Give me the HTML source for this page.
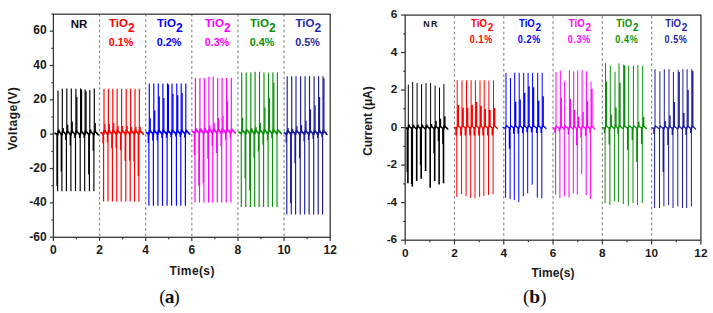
<!DOCTYPE html>
<html><head><meta charset="utf-8"><style>
html,body{margin:0;padding:0;background:#fff;}
body{width:713px;height:313px;overflow:hidden;}
svg{display:block;font-family:"Liberation Sans", sans-serif;}
</style></head><body>
<svg width="713" height="313" viewBox="0 0 713 313">
<rect width="713" height="313" fill="#fff"/>
<line x1="99.53" y1="14.20" x2="99.53" y2="237.30" stroke="#8a8a8a" stroke-width="1.2" stroke-dasharray="2.5 2.725" stroke-dashoffset="0.2"/>
<line x1="145.67" y1="14.20" x2="145.67" y2="237.30" stroke="#8a8a8a" stroke-width="1.2" stroke-dasharray="2.5 2.725" stroke-dashoffset="0.2"/>
<line x1="191.80" y1="14.20" x2="191.80" y2="237.30" stroke="#8a8a8a" stroke-width="1.2" stroke-dasharray="2.5 2.725" stroke-dashoffset="0.2"/>
<line x1="237.93" y1="14.20" x2="237.93" y2="237.30" stroke="#8a8a8a" stroke-width="1.2" stroke-dasharray="2.5 2.725" stroke-dashoffset="0.2"/>
<line x1="284.07" y1="14.20" x2="284.07" y2="237.30" stroke="#8a8a8a" stroke-width="1.2" stroke-dasharray="2.5 2.725" stroke-dashoffset="0.2"/>
<line x1="454.48" y1="15.10" x2="454.48" y2="240.20" stroke="#8a8a8a" stroke-width="1.2" stroke-dasharray="2.5 2.8" stroke-dashoffset="-0.8"/>
<line x1="503.77" y1="15.10" x2="503.77" y2="240.20" stroke="#8a8a8a" stroke-width="1.2" stroke-dasharray="2.5 2.8" stroke-dashoffset="-0.8"/>
<line x1="553.05" y1="15.10" x2="553.05" y2="240.20" stroke="#8a8a8a" stroke-width="1.2" stroke-dasharray="2.5 2.8" stroke-dashoffset="-0.8"/>
<line x1="602.33" y1="15.10" x2="602.33" y2="240.20" stroke="#8a8a8a" stroke-width="1.2" stroke-dasharray="2.5 2.8" stroke-dashoffset="-0.8"/>
<line x1="651.62" y1="15.10" x2="651.62" y2="240.20" stroke="#8a8a8a" stroke-width="1.2" stroke-dasharray="2.5 2.8" stroke-dashoffset="-0.8"/>
<polyline points="54.50,132.90 57.70,134.79 58.30,130.80 61.70,134.79 62.00,134.79 62.60,130.80 66.20,134.79 66.50,134.79 67.10,130.80 70.70,134.79 71.00,134.79 71.60,130.80 75.30,134.79 75.60,134.79 76.20,130.80 80.00,134.79 80.30,134.79 80.90,130.80 84.50,134.79 84.80,134.79 85.40,130.80 89.20,134.79 89.50,134.79 90.10,130.80 93.70,134.79 94.00,134.79 94.60,130.80 98.20,134.79 96.80,132.90" fill="none" stroke="#000000" stroke-width="1.7" stroke-linejoin="round"/>
<line x1="58.00" y1="132.90" x2="58.00" y2="90.40" stroke="#000000" stroke-width="1.15"/>
<line x1="57.60" y1="132.90" x2="57.60" y2="191.20" stroke="#000000" stroke-width="1.15"/>
<line x1="62.30" y1="132.90" x2="62.30" y2="88.80" stroke="#000000" stroke-width="1.15"/>
<line x1="61.90" y1="132.90" x2="61.90" y2="191.20" stroke="#000000" stroke-width="1.15"/>
<line x1="66.80" y1="132.90" x2="66.80" y2="88.50" stroke="#000000" stroke-width="1.15"/>
<line x1="66.40" y1="132.90" x2="66.40" y2="191.20" stroke="#000000" stroke-width="1.15"/>
<line x1="71.30" y1="132.90" x2="71.30" y2="88.50" stroke="#000000" stroke-width="1.15"/>
<line x1="70.90" y1="132.90" x2="70.90" y2="191.20" stroke="#000000" stroke-width="1.15"/>
<line x1="75.90" y1="132.90" x2="75.90" y2="88.80" stroke="#000000" stroke-width="1.15"/>
<line x1="75.50" y1="132.90" x2="75.50" y2="191.20" stroke="#000000" stroke-width="1.15"/>
<line x1="80.60" y1="132.90" x2="80.60" y2="88.50" stroke="#000000" stroke-width="1.15"/>
<line x1="80.20" y1="132.90" x2="80.20" y2="191.20" stroke="#000000" stroke-width="1.15"/>
<line x1="85.10" y1="132.90" x2="85.10" y2="89.60" stroke="#000000" stroke-width="1.15"/>
<line x1="84.70" y1="132.90" x2="84.70" y2="191.20" stroke="#000000" stroke-width="1.15"/>
<line x1="89.80" y1="132.90" x2="89.80" y2="90.10" stroke="#000000" stroke-width="1.15"/>
<line x1="89.40" y1="132.90" x2="89.40" y2="191.20" stroke="#000000" stroke-width="1.15"/>
<line x1="94.30" y1="132.90" x2="94.30" y2="88.50" stroke="#000000" stroke-width="1.15"/>
<line x1="93.90" y1="132.90" x2="93.90" y2="191.20" stroke="#000000" stroke-width="1.15"/>
<line x1="58.90" y1="132.90" x2="58.90" y2="129.50" stroke="#000000" stroke-width="1.3"/>
<line x1="63.20" y1="132.90" x2="63.20" y2="128.00" stroke="#000000" stroke-width="1.3"/>
<line x1="67.70" y1="132.90" x2="67.70" y2="124.70" stroke="#000000" stroke-width="1.3"/>
<line x1="72.20" y1="132.90" x2="72.20" y2="121.50" stroke="#000000" stroke-width="1.3"/>
<line x1="76.80" y1="132.90" x2="76.80" y2="96.80" stroke="#000000" stroke-width="1.3"/>
<line x1="81.50" y1="132.90" x2="81.50" y2="89.60" stroke="#000000" stroke-width="1.3"/>
<line x1="86.00" y1="132.90" x2="86.00" y2="91.20" stroke="#000000" stroke-width="1.3"/>
<line x1="90.70" y1="132.90" x2="90.70" y2="129.50" stroke="#000000" stroke-width="1.3"/>
<line x1="95.20" y1="132.90" x2="95.20" y2="123.10" stroke="#000000" stroke-width="1.3"/>
<line x1="57.00" y1="132.90" x2="57.00" y2="186.00" stroke="#000000" stroke-width="1.3"/>
<line x1="61.30" y1="132.90" x2="61.30" y2="171.50" stroke="#000000" stroke-width="1.3"/>
<line x1="65.80" y1="132.90" x2="65.80" y2="140.00" stroke="#000000" stroke-width="1.3"/>
<line x1="70.30" y1="132.90" x2="70.30" y2="145.60" stroke="#000000" stroke-width="1.3"/>
<line x1="74.90" y1="132.90" x2="74.90" y2="138.00" stroke="#000000" stroke-width="1.3"/>
<line x1="79.60" y1="132.90" x2="79.60" y2="138.00" stroke="#000000" stroke-width="1.3"/>
<line x1="84.10" y1="132.90" x2="84.10" y2="138.00" stroke="#000000" stroke-width="1.3"/>
<line x1="88.80" y1="132.90" x2="88.80" y2="174.60" stroke="#000000" stroke-width="1.3"/>
<line x1="93.30" y1="132.90" x2="93.30" y2="150.70" stroke="#000000" stroke-width="1.3"/>
<polyline points="100.50,132.30 103.70,134.19 104.30,130.20 107.80,134.19 108.10,134.19 108.70,130.20 112.20,134.19 112.50,134.19 113.10,130.20 116.50,134.19 116.80,134.19 117.40,130.20 121.00,134.19 121.30,134.19 121.90,130.20 125.60,134.19 125.90,134.19 126.50,130.20 130.00,134.19 130.30,134.19 130.90,130.20 134.40,134.19 134.70,134.19 135.30,130.20 138.70,134.19 139.00,134.19 139.60,130.20 143.20,134.19 141.80,132.30" fill="none" stroke="#ff0000" stroke-width="1.7" stroke-linejoin="round"/>
<line x1="104.00" y1="132.30" x2="104.00" y2="88.80" stroke="#ff0000" stroke-width="1.15"/>
<line x1="103.60" y1="132.30" x2="103.60" y2="201.50" stroke="#ff0000" stroke-width="1.15"/>
<line x1="108.40" y1="132.30" x2="108.40" y2="88.80" stroke="#ff0000" stroke-width="1.15"/>
<line x1="108.00" y1="132.30" x2="108.00" y2="201.50" stroke="#ff0000" stroke-width="1.15"/>
<line x1="112.80" y1="132.30" x2="112.80" y2="88.80" stroke="#ff0000" stroke-width="1.15"/>
<line x1="112.40" y1="132.30" x2="112.40" y2="201.50" stroke="#ff0000" stroke-width="1.15"/>
<line x1="117.10" y1="132.30" x2="117.10" y2="88.80" stroke="#ff0000" stroke-width="1.15"/>
<line x1="116.70" y1="132.30" x2="116.70" y2="201.50" stroke="#ff0000" stroke-width="1.15"/>
<line x1="121.60" y1="132.30" x2="121.60" y2="88.80" stroke="#ff0000" stroke-width="1.15"/>
<line x1="121.20" y1="132.30" x2="121.20" y2="201.50" stroke="#ff0000" stroke-width="1.15"/>
<line x1="126.20" y1="132.30" x2="126.20" y2="88.80" stroke="#ff0000" stroke-width="1.15"/>
<line x1="125.80" y1="132.30" x2="125.80" y2="201.50" stroke="#ff0000" stroke-width="1.15"/>
<line x1="130.60" y1="132.30" x2="130.60" y2="88.80" stroke="#ff0000" stroke-width="1.15"/>
<line x1="130.20" y1="132.30" x2="130.20" y2="201.50" stroke="#ff0000" stroke-width="1.15"/>
<line x1="135.00" y1="132.30" x2="135.00" y2="88.80" stroke="#ff0000" stroke-width="1.15"/>
<line x1="134.60" y1="132.30" x2="134.60" y2="201.50" stroke="#ff0000" stroke-width="1.15"/>
<line x1="139.30" y1="132.30" x2="139.30" y2="88.80" stroke="#ff0000" stroke-width="1.15"/>
<line x1="138.90" y1="132.30" x2="138.90" y2="201.50" stroke="#ff0000" stroke-width="1.15"/>
<line x1="104.90" y1="132.30" x2="104.90" y2="124.00" stroke="#ff0000" stroke-width="1.3"/>
<line x1="109.30" y1="132.30" x2="109.30" y2="124.00" stroke="#ff0000" stroke-width="1.3"/>
<line x1="113.70" y1="132.30" x2="113.70" y2="123.00" stroke="#ff0000" stroke-width="1.3"/>
<line x1="118.00" y1="132.30" x2="118.00" y2="126.00" stroke="#ff0000" stroke-width="1.3"/>
<line x1="122.50" y1="132.30" x2="122.50" y2="126.00" stroke="#ff0000" stroke-width="1.3"/>
<line x1="127.10" y1="132.30" x2="127.10" y2="126.00" stroke="#ff0000" stroke-width="1.3"/>
<line x1="131.50" y1="132.30" x2="131.50" y2="127.00" stroke="#ff0000" stroke-width="1.3"/>
<line x1="135.90" y1="132.30" x2="135.90" y2="127.00" stroke="#ff0000" stroke-width="1.3"/>
<line x1="140.20" y1="132.30" x2="140.20" y2="127.00" stroke="#ff0000" stroke-width="1.3"/>
<line x1="103.00" y1="132.30" x2="103.00" y2="143.40" stroke="#ff0000" stroke-width="1.3"/>
<line x1="107.40" y1="132.30" x2="107.40" y2="142.50" stroke="#ff0000" stroke-width="1.3"/>
<line x1="111.80" y1="132.30" x2="111.80" y2="148.20" stroke="#ff0000" stroke-width="1.3"/>
<line x1="116.10" y1="132.30" x2="116.10" y2="148.20" stroke="#ff0000" stroke-width="1.3"/>
<line x1="120.60" y1="132.30" x2="120.60" y2="150.10" stroke="#ff0000" stroke-width="1.3"/>
<line x1="125.20" y1="132.30" x2="125.20" y2="160.70" stroke="#ff0000" stroke-width="1.3"/>
<line x1="129.60" y1="132.30" x2="129.60" y2="160.70" stroke="#ff0000" stroke-width="1.3"/>
<line x1="134.00" y1="132.30" x2="134.00" y2="161.60" stroke="#ff0000" stroke-width="1.3"/>
<line x1="138.30" y1="132.30" x2="138.30" y2="176.00" stroke="#ff0000" stroke-width="1.3"/>
<polyline points="145.80,132.30 149.00,134.19 149.60,130.20 153.20,134.19 153.50,134.19 154.10,130.20 157.70,134.19 158.00,134.19 158.60,130.20 162.30,134.19 162.60,134.19 163.20,130.20 166.90,134.19 167.20,134.19 167.80,130.20 171.40,134.19 171.70,134.19 172.30,130.20 176.20,134.19 176.50,134.19 177.10,130.20 180.60,134.19 180.90,134.19 181.50,130.20 185.20,134.19 185.50,134.19 186.10,130.20 189.70,134.19 188.30,132.30" fill="none" stroke="#0000ff" stroke-width="1.7" stroke-linejoin="round"/>
<line x1="149.30" y1="132.30" x2="149.30" y2="83.40" stroke="#0000ff" stroke-width="1.15"/>
<line x1="148.90" y1="132.30" x2="148.90" y2="205.80" stroke="#0000ff" stroke-width="1.15"/>
<line x1="153.80" y1="132.30" x2="153.80" y2="83.40" stroke="#0000ff" stroke-width="1.15"/>
<line x1="153.40" y1="132.30" x2="153.40" y2="205.80" stroke="#0000ff" stroke-width="1.15"/>
<line x1="158.30" y1="132.30" x2="158.30" y2="83.40" stroke="#0000ff" stroke-width="1.15"/>
<line x1="157.90" y1="132.30" x2="157.90" y2="205.80" stroke="#0000ff" stroke-width="1.15"/>
<line x1="162.90" y1="132.30" x2="162.90" y2="83.40" stroke="#0000ff" stroke-width="1.15"/>
<line x1="162.50" y1="132.30" x2="162.50" y2="205.80" stroke="#0000ff" stroke-width="1.15"/>
<line x1="167.50" y1="132.30" x2="167.50" y2="83.40" stroke="#0000ff" stroke-width="1.15"/>
<line x1="167.10" y1="132.30" x2="167.10" y2="205.80" stroke="#0000ff" stroke-width="1.15"/>
<line x1="172.00" y1="132.30" x2="172.00" y2="83.40" stroke="#0000ff" stroke-width="1.15"/>
<line x1="171.60" y1="132.30" x2="171.60" y2="205.80" stroke="#0000ff" stroke-width="1.15"/>
<line x1="176.80" y1="132.30" x2="176.80" y2="83.40" stroke="#0000ff" stroke-width="1.15"/>
<line x1="176.40" y1="132.30" x2="176.40" y2="205.80" stroke="#0000ff" stroke-width="1.15"/>
<line x1="181.20" y1="132.30" x2="181.20" y2="83.40" stroke="#0000ff" stroke-width="1.15"/>
<line x1="180.80" y1="132.30" x2="180.80" y2="205.80" stroke="#0000ff" stroke-width="1.15"/>
<line x1="185.80" y1="132.30" x2="185.80" y2="83.40" stroke="#0000ff" stroke-width="1.15"/>
<line x1="185.40" y1="132.30" x2="185.40" y2="205.80" stroke="#0000ff" stroke-width="1.15"/>
<line x1="150.20" y1="132.30" x2="150.20" y2="118.20" stroke="#0000ff" stroke-width="1.3"/>
<line x1="154.70" y1="132.30" x2="154.70" y2="110.60" stroke="#0000ff" stroke-width="1.3"/>
<line x1="159.20" y1="132.30" x2="159.20" y2="96.20" stroke="#0000ff" stroke-width="1.3"/>
<line x1="163.80" y1="132.30" x2="163.80" y2="98.10" stroke="#0000ff" stroke-width="1.3"/>
<line x1="168.40" y1="132.30" x2="168.40" y2="84.50" stroke="#0000ff" stroke-width="1.3"/>
<line x1="172.90" y1="132.30" x2="172.90" y2="93.80" stroke="#0000ff" stroke-width="1.3"/>
<line x1="177.70" y1="132.30" x2="177.70" y2="95.30" stroke="#0000ff" stroke-width="1.3"/>
<line x1="182.10" y1="132.30" x2="182.10" y2="92.90" stroke="#0000ff" stroke-width="1.3"/>
<line x1="148.30" y1="132.30" x2="148.30" y2="142.90" stroke="#0000ff" stroke-width="1.3"/>
<line x1="152.80" y1="132.30" x2="152.80" y2="140.50" stroke="#0000ff" stroke-width="1.3"/>
<line x1="157.30" y1="132.30" x2="157.30" y2="140.50" stroke="#0000ff" stroke-width="1.3"/>
<line x1="161.90" y1="132.30" x2="161.90" y2="138.00" stroke="#0000ff" stroke-width="1.3"/>
<line x1="166.50" y1="132.30" x2="166.50" y2="138.00" stroke="#0000ff" stroke-width="1.3"/>
<line x1="171.00" y1="132.30" x2="171.00" y2="137.10" stroke="#0000ff" stroke-width="1.3"/>
<line x1="175.80" y1="132.30" x2="175.80" y2="136.60" stroke="#0000ff" stroke-width="1.3"/>
<line x1="180.20" y1="132.30" x2="180.20" y2="137.10" stroke="#0000ff" stroke-width="1.3"/>
<line x1="184.80" y1="132.30" x2="184.80" y2="137.60" stroke="#0000ff" stroke-width="1.3"/>
<polyline points="191.90,131.20 195.10,133.09 195.70,129.10 199.30,133.09 199.60,133.09 200.20,129.10 203.70,133.09 204.00,133.09 204.60,129.10 208.30,133.09 208.60,133.09 209.20,129.10 212.60,133.09 212.90,133.09 213.50,129.10 217.10,133.09 217.40,133.09 218.00,129.10 221.50,133.09 221.80,133.09 222.40,129.10 226.00,133.09 226.30,133.09 226.90,129.10 230.70,133.09 231.00,133.09 231.60,129.10 235.20,133.09 233.80,131.20" fill="none" stroke="#ff00ff" stroke-width="1.7" stroke-linejoin="round"/>
<line x1="195.40" y1="131.20" x2="195.40" y2="78.10" stroke="#ff00ff" stroke-width="1.15"/>
<line x1="195.00" y1="131.20" x2="195.00" y2="202.60" stroke="#ff00ff" stroke-width="1.15"/>
<line x1="199.90" y1="131.20" x2="199.90" y2="78.10" stroke="#ff00ff" stroke-width="1.15"/>
<line x1="199.50" y1="131.20" x2="199.50" y2="202.60" stroke="#ff00ff" stroke-width="1.15"/>
<line x1="204.30" y1="131.20" x2="204.30" y2="78.10" stroke="#ff00ff" stroke-width="1.15"/>
<line x1="203.90" y1="131.20" x2="203.90" y2="202.60" stroke="#ff00ff" stroke-width="1.15"/>
<line x1="208.90" y1="131.20" x2="208.90" y2="76.80" stroke="#ff00ff" stroke-width="1.15"/>
<line x1="208.50" y1="131.20" x2="208.50" y2="202.60" stroke="#ff00ff" stroke-width="1.15"/>
<line x1="213.20" y1="131.20" x2="213.20" y2="76.80" stroke="#ff00ff" stroke-width="1.15"/>
<line x1="212.80" y1="131.20" x2="212.80" y2="202.60" stroke="#ff00ff" stroke-width="1.15"/>
<line x1="217.70" y1="131.20" x2="217.70" y2="78.10" stroke="#ff00ff" stroke-width="1.15"/>
<line x1="217.30" y1="131.20" x2="217.30" y2="202.60" stroke="#ff00ff" stroke-width="1.15"/>
<line x1="222.10" y1="131.20" x2="222.10" y2="78.10" stroke="#ff00ff" stroke-width="1.15"/>
<line x1="221.70" y1="131.20" x2="221.70" y2="202.60" stroke="#ff00ff" stroke-width="1.15"/>
<line x1="226.60" y1="131.20" x2="226.60" y2="78.10" stroke="#ff00ff" stroke-width="1.15"/>
<line x1="226.20" y1="131.20" x2="226.20" y2="202.60" stroke="#ff00ff" stroke-width="1.15"/>
<line x1="231.30" y1="131.20" x2="231.30" y2="78.10" stroke="#ff00ff" stroke-width="1.15"/>
<line x1="230.90" y1="131.20" x2="230.90" y2="202.60" stroke="#ff00ff" stroke-width="1.15"/>
<line x1="196.30" y1="131.20" x2="196.30" y2="128.50" stroke="#ff00ff" stroke-width="1.3"/>
<line x1="200.80" y1="131.20" x2="200.80" y2="128.50" stroke="#ff00ff" stroke-width="1.3"/>
<line x1="205.20" y1="131.20" x2="205.20" y2="127.60" stroke="#ff00ff" stroke-width="1.3"/>
<line x1="209.80" y1="131.20" x2="209.80" y2="125.60" stroke="#ff00ff" stroke-width="1.3"/>
<line x1="214.10" y1="131.20" x2="214.10" y2="122.80" stroke="#ff00ff" stroke-width="1.3"/>
<line x1="218.60" y1="131.20" x2="218.60" y2="118.00" stroke="#ff00ff" stroke-width="1.3"/>
<line x1="223.00" y1="131.20" x2="223.00" y2="116.00" stroke="#ff00ff" stroke-width="1.3"/>
<line x1="227.50" y1="131.20" x2="227.50" y2="100.70" stroke="#ff00ff" stroke-width="1.3"/>
<line x1="194.40" y1="131.20" x2="194.40" y2="154.90" stroke="#ff00ff" stroke-width="1.3"/>
<line x1="198.90" y1="131.20" x2="198.90" y2="185.60" stroke="#ff00ff" stroke-width="1.3"/>
<line x1="203.30" y1="131.20" x2="203.30" y2="183.00" stroke="#ff00ff" stroke-width="1.3"/>
<line x1="207.90" y1="131.20" x2="207.90" y2="158.70" stroke="#ff00ff" stroke-width="1.3"/>
<line x1="212.20" y1="131.20" x2="212.20" y2="146.00" stroke="#ff00ff" stroke-width="1.3"/>
<line x1="216.70" y1="131.20" x2="216.70" y2="153.00" stroke="#ff00ff" stroke-width="1.3"/>
<line x1="221.10" y1="131.20" x2="221.10" y2="146.30" stroke="#ff00ff" stroke-width="1.3"/>
<line x1="225.60" y1="131.20" x2="225.60" y2="140.00" stroke="#ff00ff" stroke-width="1.3"/>
<line x1="230.30" y1="131.20" x2="230.30" y2="138.00" stroke="#ff00ff" stroke-width="1.3"/>
<polyline points="238.20,131.80 241.40,133.69 242.00,129.70 245.60,133.69 245.90,133.69 246.50,129.70 250.20,133.69 250.50,133.69 251.10,129.70 254.50,133.69 254.80,133.69 255.40,129.70 258.90,133.69 259.20,133.69 259.80,129.70 263.40,133.69 263.70,133.69 264.30,129.70 267.90,133.69 268.20,133.69 268.80,129.70 272.30,133.69 272.60,133.69 273.20,129.70 276.80,133.69 277.10,133.69 277.70,129.70 281.30,133.69 279.90,131.80" fill="none" stroke="#0a900a" stroke-width="1.7" stroke-linejoin="round"/>
<line x1="241.70" y1="131.80" x2="241.70" y2="72.60" stroke="#0a900a" stroke-width="1.15"/>
<line x1="241.30" y1="131.80" x2="241.30" y2="206.90" stroke="#0a900a" stroke-width="1.15"/>
<line x1="246.20" y1="131.80" x2="246.20" y2="72.60" stroke="#0a900a" stroke-width="1.15"/>
<line x1="245.80" y1="131.80" x2="245.80" y2="206.90" stroke="#0a900a" stroke-width="1.15"/>
<line x1="250.80" y1="131.80" x2="250.80" y2="72.60" stroke="#0a900a" stroke-width="1.15"/>
<line x1="250.40" y1="131.80" x2="250.40" y2="206.90" stroke="#0a900a" stroke-width="1.15"/>
<line x1="255.10" y1="131.80" x2="255.10" y2="71.70" stroke="#0a900a" stroke-width="1.15"/>
<line x1="254.70" y1="131.80" x2="254.70" y2="206.90" stroke="#0a900a" stroke-width="1.15"/>
<line x1="259.50" y1="131.80" x2="259.50" y2="71.70" stroke="#0a900a" stroke-width="1.15"/>
<line x1="259.10" y1="131.80" x2="259.10" y2="206.90" stroke="#0a900a" stroke-width="1.15"/>
<line x1="264.00" y1="131.80" x2="264.00" y2="72.60" stroke="#0a900a" stroke-width="1.15"/>
<line x1="263.60" y1="131.80" x2="263.60" y2="206.90" stroke="#0a900a" stroke-width="1.15"/>
<line x1="268.50" y1="131.80" x2="268.50" y2="72.60" stroke="#0a900a" stroke-width="1.15"/>
<line x1="268.10" y1="131.80" x2="268.10" y2="206.90" stroke="#0a900a" stroke-width="1.15"/>
<line x1="272.90" y1="131.80" x2="272.90" y2="72.60" stroke="#0a900a" stroke-width="1.15"/>
<line x1="272.50" y1="131.80" x2="272.50" y2="206.90" stroke="#0a900a" stroke-width="1.15"/>
<line x1="277.40" y1="131.80" x2="277.40" y2="72.60" stroke="#0a900a" stroke-width="1.15"/>
<line x1="277.00" y1="131.80" x2="277.00" y2="206.90" stroke="#0a900a" stroke-width="1.15"/>
<line x1="242.60" y1="131.80" x2="242.60" y2="117.80" stroke="#0a900a" stroke-width="1.3"/>
<line x1="251.70" y1="131.80" x2="251.70" y2="128.00" stroke="#0a900a" stroke-width="1.3"/>
<line x1="256.00" y1="131.80" x2="256.00" y2="127.00" stroke="#0a900a" stroke-width="1.3"/>
<line x1="260.40" y1="131.80" x2="260.40" y2="123.00" stroke="#0a900a" stroke-width="1.3"/>
<line x1="264.90" y1="131.80" x2="264.90" y2="107.40" stroke="#0a900a" stroke-width="1.3"/>
<line x1="269.40" y1="131.80" x2="269.40" y2="98.00" stroke="#0a900a" stroke-width="1.3"/>
<line x1="273.80" y1="131.80" x2="273.80" y2="82.50" stroke="#0a900a" stroke-width="1.3"/>
<line x1="245.20" y1="131.80" x2="245.20" y2="178.30" stroke="#0a900a" stroke-width="1.3"/>
<line x1="249.80" y1="131.80" x2="249.80" y2="190.60" stroke="#0a900a" stroke-width="1.3"/>
<line x1="254.10" y1="131.80" x2="254.10" y2="158.20" stroke="#0a900a" stroke-width="1.3"/>
<line x1="258.50" y1="131.80" x2="258.50" y2="151.50" stroke="#0a900a" stroke-width="1.3"/>
<line x1="263.00" y1="131.80" x2="263.00" y2="144.80" stroke="#0a900a" stroke-width="1.3"/>
<line x1="267.50" y1="131.80" x2="267.50" y2="140.30" stroke="#0a900a" stroke-width="1.3"/>
<line x1="271.90" y1="131.80" x2="271.90" y2="138.00" stroke="#0a900a" stroke-width="1.3"/>
<polyline points="283.70,132.50 286.90,134.39 287.50,130.40 291.10,134.39 291.40,134.39 292.00,130.40 295.40,134.39 295.70,134.39 296.30,130.40 300.00,134.39 300.30,134.39 300.90,130.40 304.50,134.39 304.80,134.39 305.40,130.40 308.90,134.39 309.20,134.39 309.80,130.40 313.50,134.39 313.80,134.39 314.40,130.40 318.00,134.39 318.30,134.39 318.90,130.40 322.40,134.39 322.70,134.39 323.30,130.40 326.90,134.39 325.50,132.50" fill="none" stroke="#1c1c9c" stroke-width="1.7" stroke-linejoin="round"/>
<line x1="287.20" y1="132.50" x2="287.20" y2="76.20" stroke="#1c1c9c" stroke-width="1.15"/>
<line x1="286.80" y1="132.50" x2="286.80" y2="214.50" stroke="#1c1c9c" stroke-width="1.15"/>
<line x1="291.70" y1="132.50" x2="291.70" y2="76.20" stroke="#1c1c9c" stroke-width="1.15"/>
<line x1="291.30" y1="132.50" x2="291.30" y2="214.50" stroke="#1c1c9c" stroke-width="1.15"/>
<line x1="296.00" y1="132.50" x2="296.00" y2="76.20" stroke="#1c1c9c" stroke-width="1.15"/>
<line x1="295.60" y1="132.50" x2="295.60" y2="214.50" stroke="#1c1c9c" stroke-width="1.15"/>
<line x1="300.60" y1="132.50" x2="300.60" y2="76.20" stroke="#1c1c9c" stroke-width="1.15"/>
<line x1="300.20" y1="132.50" x2="300.20" y2="214.50" stroke="#1c1c9c" stroke-width="1.15"/>
<line x1="305.10" y1="132.50" x2="305.10" y2="76.20" stroke="#1c1c9c" stroke-width="1.15"/>
<line x1="304.70" y1="132.50" x2="304.70" y2="214.50" stroke="#1c1c9c" stroke-width="1.15"/>
<line x1="309.50" y1="132.50" x2="309.50" y2="76.20" stroke="#1c1c9c" stroke-width="1.15"/>
<line x1="309.10" y1="132.50" x2="309.10" y2="214.50" stroke="#1c1c9c" stroke-width="1.15"/>
<line x1="314.10" y1="132.50" x2="314.10" y2="76.20" stroke="#1c1c9c" stroke-width="1.15"/>
<line x1="313.70" y1="132.50" x2="313.70" y2="214.50" stroke="#1c1c9c" stroke-width="1.15"/>
<line x1="318.60" y1="132.50" x2="318.60" y2="76.20" stroke="#1c1c9c" stroke-width="1.15"/>
<line x1="318.20" y1="132.50" x2="318.20" y2="214.50" stroke="#1c1c9c" stroke-width="1.15"/>
<line x1="323.00" y1="132.50" x2="323.00" y2="76.20" stroke="#1c1c9c" stroke-width="1.15"/>
<line x1="322.60" y1="132.50" x2="322.60" y2="214.50" stroke="#1c1c9c" stroke-width="1.15"/>
<line x1="288.10" y1="132.50" x2="288.10" y2="128.00" stroke="#1c1c9c" stroke-width="1.3"/>
<line x1="292.60" y1="132.50" x2="292.60" y2="129.00" stroke="#1c1c9c" stroke-width="1.3"/>
<line x1="296.90" y1="132.50" x2="296.90" y2="126.00" stroke="#1c1c9c" stroke-width="1.3"/>
<line x1="301.50" y1="132.50" x2="301.50" y2="125.00" stroke="#1c1c9c" stroke-width="1.3"/>
<line x1="306.00" y1="132.50" x2="306.00" y2="120.80" stroke="#1c1c9c" stroke-width="1.3"/>
<line x1="310.40" y1="132.50" x2="310.40" y2="109.40" stroke="#1c1c9c" stroke-width="1.3"/>
<line x1="315.00" y1="132.50" x2="315.00" y2="105.30" stroke="#1c1c9c" stroke-width="1.3"/>
<line x1="319.50" y1="132.50" x2="319.50" y2="97.00" stroke="#1c1c9c" stroke-width="1.3"/>
<line x1="323.90" y1="132.50" x2="323.90" y2="78.30" stroke="#1c1c9c" stroke-width="1.3"/>
<line x1="286.20" y1="132.50" x2="286.20" y2="142.80" stroke="#1c1c9c" stroke-width="1.3"/>
<line x1="290.70" y1="132.50" x2="290.70" y2="203.00" stroke="#1c1c9c" stroke-width="1.3"/>
<line x1="295.00" y1="132.50" x2="295.00" y2="163.30" stroke="#1c1c9c" stroke-width="1.3"/>
<line x1="299.60" y1="132.50" x2="299.60" y2="158.20" stroke="#1c1c9c" stroke-width="1.3"/>
<line x1="304.10" y1="132.50" x2="304.10" y2="141.50" stroke="#1c1c9c" stroke-width="1.3"/>
<line x1="308.50" y1="132.50" x2="308.50" y2="140.00" stroke="#1c1c9c" stroke-width="1.3"/>
<line x1="313.10" y1="132.50" x2="313.10" y2="139.00" stroke="#1c1c9c" stroke-width="1.3"/>
<line x1="317.60" y1="132.50" x2="317.60" y2="138.00" stroke="#1c1c9c" stroke-width="1.3"/>
<line x1="322.00" y1="132.50" x2="322.00" y2="137.00" stroke="#1c1c9c" stroke-width="1.3"/>
<polyline points="404.80,127.40 408.00,128.93 408.60,125.70 412.10,128.93 412.40,128.93 413.00,125.70 416.50,128.93 416.80,128.93 417.40,125.70 421.00,128.93 421.30,128.93 421.90,125.70 425.40,128.93 425.70,128.93 426.30,125.70 430.00,128.93 430.30,128.93 430.90,125.70 434.50,128.93 434.80,128.93 435.40,125.70 438.90,128.93 439.20,128.93 439.80,125.70 443.30,128.93 443.60,128.93 444.20,125.70 447.80,128.93 446.40,127.40" fill="none" stroke="#000000" stroke-width="1.5" stroke-linejoin="round"/>
<line x1="408.30" y1="127.40" x2="408.30" y2="84.70" stroke="#000000" stroke-width="1.0"/>
<line x1="407.90" y1="127.40" x2="407.90" y2="183.30" stroke="#000000" stroke-width="1.6"/>
<line x1="412.70" y1="127.40" x2="412.70" y2="82.00" stroke="#000000" stroke-width="1.0"/>
<line x1="412.30" y1="127.40" x2="412.30" y2="186.60" stroke="#000000" stroke-width="1.6"/>
<line x1="417.10" y1="127.40" x2="417.10" y2="83.10" stroke="#000000" stroke-width="1.0"/>
<line x1="416.70" y1="127.40" x2="416.70" y2="181.00" stroke="#000000" stroke-width="1.6"/>
<line x1="421.60" y1="127.40" x2="421.60" y2="84.10" stroke="#000000" stroke-width="1.0"/>
<line x1="421.20" y1="127.40" x2="421.20" y2="178.80" stroke="#000000" stroke-width="1.6"/>
<line x1="426.00" y1="127.40" x2="426.00" y2="83.10" stroke="#000000" stroke-width="1.0"/>
<line x1="425.60" y1="127.40" x2="425.60" y2="171.00" stroke="#000000" stroke-width="1.6"/>
<line x1="430.60" y1="127.40" x2="430.60" y2="83.10" stroke="#000000" stroke-width="1.0"/>
<line x1="430.20" y1="127.40" x2="430.20" y2="187.80" stroke="#000000" stroke-width="1.6"/>
<line x1="435.10" y1="127.40" x2="435.10" y2="85.70" stroke="#000000" stroke-width="1.0"/>
<line x1="434.70" y1="127.40" x2="434.70" y2="181.00" stroke="#000000" stroke-width="1.6"/>
<line x1="439.50" y1="127.40" x2="439.50" y2="87.60" stroke="#000000" stroke-width="1.0"/>
<line x1="439.10" y1="127.40" x2="439.10" y2="184.40" stroke="#000000" stroke-width="1.6"/>
<line x1="443.90" y1="127.40" x2="443.90" y2="84.10" stroke="#000000" stroke-width="1.0"/>
<line x1="443.50" y1="127.40" x2="443.50" y2="183.30" stroke="#000000" stroke-width="1.6"/>
<line x1="409.20" y1="127.40" x2="409.20" y2="124.50" stroke="#000000" stroke-width="1.5"/>
<line x1="413.60" y1="127.40" x2="413.60" y2="124.50" stroke="#000000" stroke-width="1.5"/>
<line x1="418.00" y1="127.40" x2="418.00" y2="124.50" stroke="#000000" stroke-width="1.5"/>
<line x1="422.50" y1="127.40" x2="422.50" y2="124.50" stroke="#000000" stroke-width="1.5"/>
<line x1="426.90" y1="127.40" x2="426.90" y2="124.50" stroke="#000000" stroke-width="1.5"/>
<line x1="431.50" y1="127.40" x2="431.50" y2="124.00" stroke="#000000" stroke-width="1.5"/>
<line x1="436.00" y1="127.40" x2="436.00" y2="120.80" stroke="#000000" stroke-width="1.5"/>
<line x1="440.40" y1="127.40" x2="440.40" y2="118.70" stroke="#000000" stroke-width="1.5"/>
<line x1="444.80" y1="127.40" x2="444.80" y2="116.30" stroke="#000000" stroke-width="1.5"/>
<line x1="407.30" y1="127.40" x2="407.30" y2="172.00" stroke="#000000" stroke-width="1.5"/>
<line x1="411.70" y1="127.40" x2="411.70" y2="184.00" stroke="#000000" stroke-width="1.5"/>
<line x1="420.60" y1="127.40" x2="420.60" y2="165.00" stroke="#000000" stroke-width="1.5"/>
<line x1="434.10" y1="127.40" x2="434.10" y2="153.00" stroke="#000000" stroke-width="1.5"/>
<line x1="438.50" y1="127.40" x2="438.50" y2="141.00" stroke="#000000" stroke-width="1.5"/>
<line x1="442.90" y1="127.40" x2="442.90" y2="144.00" stroke="#000000" stroke-width="1.5"/>
<polyline points="453.70,127.00 456.90,128.53 457.50,125.30 461.40,128.53 461.70,128.53 462.30,125.30 465.90,128.53 466.20,128.53 466.80,125.30 470.50,128.53 470.80,128.53 471.40,125.30 474.80,128.53 475.10,128.53 475.70,125.30 479.40,128.53 479.70,128.53 480.30,125.30 483.60,128.53 483.90,128.53 484.50,125.30 488.30,128.53 488.60,128.53 489.20,125.30 492.90,128.53 493.20,128.53 493.80,125.30 497.40,128.53 496.00,127.00" fill="none" stroke="#ff0000" stroke-width="1.15" stroke-linejoin="round"/>
<line x1="457.20" y1="127.00" x2="457.20" y2="80.20" stroke="#ff0000" stroke-width="1.0"/>
<line x1="456.80" y1="127.00" x2="456.80" y2="197.00" stroke="#ff0000" stroke-width="1.0"/>
<line x1="462.00" y1="127.00" x2="462.00" y2="80.50" stroke="#ff0000" stroke-width="1.0"/>
<line x1="461.60" y1="127.00" x2="461.60" y2="194.00" stroke="#ff0000" stroke-width="1.0"/>
<line x1="466.50" y1="127.00" x2="466.50" y2="80.50" stroke="#ff0000" stroke-width="1.0"/>
<line x1="466.10" y1="127.00" x2="466.10" y2="196.00" stroke="#ff0000" stroke-width="1.0"/>
<line x1="471.10" y1="127.00" x2="471.10" y2="80.20" stroke="#ff0000" stroke-width="1.0"/>
<line x1="470.70" y1="127.00" x2="470.70" y2="198.00" stroke="#ff0000" stroke-width="1.0"/>
<line x1="475.40" y1="127.00" x2="475.40" y2="80.20" stroke="#ff0000" stroke-width="1.0"/>
<line x1="475.00" y1="127.00" x2="475.00" y2="198.50" stroke="#ff0000" stroke-width="1.0"/>
<line x1="480.00" y1="127.00" x2="480.00" y2="80.50" stroke="#ff0000" stroke-width="1.0"/>
<line x1="479.60" y1="127.00" x2="479.60" y2="197.00" stroke="#ff0000" stroke-width="1.0"/>
<line x1="484.20" y1="127.00" x2="484.20" y2="80.20" stroke="#ff0000" stroke-width="1.0"/>
<line x1="483.80" y1="127.00" x2="483.80" y2="196.00" stroke="#ff0000" stroke-width="1.0"/>
<line x1="488.90" y1="127.00" x2="488.90" y2="80.50" stroke="#ff0000" stroke-width="1.0"/>
<line x1="488.50" y1="127.00" x2="488.50" y2="195.00" stroke="#ff0000" stroke-width="1.0"/>
<line x1="493.50" y1="127.00" x2="493.50" y2="80.50" stroke="#ff0000" stroke-width="1.0"/>
<line x1="493.10" y1="127.00" x2="493.10" y2="194.00" stroke="#ff0000" stroke-width="1.0"/>
<line x1="458.10" y1="127.00" x2="458.10" y2="105.00" stroke="#ff0000" stroke-width="1.9"/>
<line x1="462.90" y1="127.00" x2="462.90" y2="107.80" stroke="#ff0000" stroke-width="1.9"/>
<line x1="467.40" y1="127.00" x2="467.40" y2="107.80" stroke="#ff0000" stroke-width="1.9"/>
<line x1="472.00" y1="127.00" x2="472.00" y2="105.00" stroke="#ff0000" stroke-width="1.9"/>
<line x1="476.30" y1="127.00" x2="476.30" y2="102.00" stroke="#ff0000" stroke-width="1.9"/>
<line x1="480.90" y1="127.00" x2="480.90" y2="106.00" stroke="#ff0000" stroke-width="1.9"/>
<line x1="485.10" y1="127.00" x2="485.10" y2="109.00" stroke="#ff0000" stroke-width="1.9"/>
<line x1="489.80" y1="127.00" x2="489.80" y2="110.00" stroke="#ff0000" stroke-width="1.9"/>
<line x1="494.40" y1="127.00" x2="494.40" y2="108.00" stroke="#ff0000" stroke-width="1.9"/>
<line x1="456.20" y1="127.00" x2="456.20" y2="135.50" stroke="#ff0000" stroke-width="1.9"/>
<line x1="461.00" y1="127.00" x2="461.00" y2="135.50" stroke="#ff0000" stroke-width="1.9"/>
<line x1="465.50" y1="127.00" x2="465.50" y2="135.50" stroke="#ff0000" stroke-width="1.9"/>
<line x1="470.10" y1="127.00" x2="470.10" y2="135.50" stroke="#ff0000" stroke-width="1.9"/>
<line x1="474.40" y1="127.00" x2="474.40" y2="135.50" stroke="#ff0000" stroke-width="1.9"/>
<line x1="479.00" y1="127.00" x2="479.00" y2="135.50" stroke="#ff0000" stroke-width="1.9"/>
<line x1="483.20" y1="127.00" x2="483.20" y2="135.50" stroke="#ff0000" stroke-width="1.9"/>
<line x1="487.90" y1="127.00" x2="487.90" y2="135.50" stroke="#ff0000" stroke-width="1.9"/>
<line x1="492.50" y1="127.00" x2="492.50" y2="135.50" stroke="#ff0000" stroke-width="1.9"/>
<polyline points="502.50,127.00 505.70,128.53 506.30,125.30 509.90,128.53 510.20,128.53 510.80,125.30 514.10,128.53 514.40,128.53 515.00,125.30 518.60,128.53 518.90,128.53 519.50,125.30 523.10,128.53 523.40,128.53 524.00,125.30 527.50,128.53 527.80,128.53 528.40,125.30 532.00,128.53 532.30,128.53 532.90,125.30 537.10,128.53 537.40,128.53 538.00,125.30 541.60,128.53 541.90,128.53 542.50,125.30 546.10,128.53 544.70,127.00" fill="none" stroke="#0000ff" stroke-width="1.15" stroke-linejoin="round"/>
<line x1="506.00" y1="127.00" x2="506.00" y2="72.80" stroke="#0000ff" stroke-width="1.0"/>
<line x1="505.60" y1="127.00" x2="505.60" y2="197.60" stroke="#0000ff" stroke-width="1.0"/>
<line x1="510.50" y1="127.00" x2="510.50" y2="78.00" stroke="#0000ff" stroke-width="1.0"/>
<line x1="510.10" y1="127.00" x2="510.10" y2="199.00" stroke="#0000ff" stroke-width="1.0"/>
<line x1="514.70" y1="127.00" x2="514.70" y2="72.80" stroke="#0000ff" stroke-width="1.0"/>
<line x1="514.30" y1="127.00" x2="514.30" y2="199.90" stroke="#0000ff" stroke-width="1.0"/>
<line x1="519.20" y1="127.00" x2="519.20" y2="72.80" stroke="#0000ff" stroke-width="1.0"/>
<line x1="518.80" y1="127.00" x2="518.80" y2="201.90" stroke="#0000ff" stroke-width="1.0"/>
<line x1="523.70" y1="127.00" x2="523.70" y2="72.80" stroke="#0000ff" stroke-width="1.0"/>
<line x1="523.30" y1="127.00" x2="523.30" y2="196.10" stroke="#0000ff" stroke-width="1.0"/>
<line x1="528.10" y1="127.00" x2="528.10" y2="72.80" stroke="#0000ff" stroke-width="1.0"/>
<line x1="527.70" y1="127.00" x2="527.70" y2="193.30" stroke="#0000ff" stroke-width="1.0"/>
<line x1="532.60" y1="127.00" x2="532.60" y2="72.80" stroke="#0000ff" stroke-width="1.0"/>
<line x1="532.20" y1="127.00" x2="532.20" y2="184.70" stroke="#0000ff" stroke-width="1.0"/>
<line x1="537.70" y1="127.00" x2="537.70" y2="72.80" stroke="#0000ff" stroke-width="1.0"/>
<line x1="537.30" y1="127.00" x2="537.30" y2="197.60" stroke="#0000ff" stroke-width="1.0"/>
<line x1="542.20" y1="127.00" x2="542.20" y2="72.80" stroke="#0000ff" stroke-width="1.0"/>
<line x1="541.80" y1="127.00" x2="541.80" y2="198.20" stroke="#0000ff" stroke-width="1.0"/>
<line x1="515.60" y1="127.00" x2="515.60" y2="101.80" stroke="#0000ff" stroke-width="1.5"/>
<line x1="520.10" y1="127.00" x2="520.10" y2="99.60" stroke="#0000ff" stroke-width="1.5"/>
<line x1="524.60" y1="127.00" x2="524.60" y2="92.90" stroke="#0000ff" stroke-width="1.5"/>
<line x1="529.00" y1="127.00" x2="529.00" y2="86.20" stroke="#0000ff" stroke-width="1.5"/>
<line x1="533.50" y1="127.00" x2="533.50" y2="87.30" stroke="#0000ff" stroke-width="1.5"/>
<line x1="538.60" y1="127.00" x2="538.60" y2="100.70" stroke="#0000ff" stroke-width="1.5"/>
<line x1="543.10" y1="127.00" x2="543.10" y2="96.30" stroke="#0000ff" stroke-width="1.5"/>
<line x1="509.50" y1="127.00" x2="509.50" y2="148.80" stroke="#0000ff" stroke-width="1.5"/>
<line x1="513.70" y1="127.00" x2="513.70" y2="133.70" stroke="#0000ff" stroke-width="1.5"/>
<line x1="518.20" y1="127.00" x2="518.20" y2="133.70" stroke="#0000ff" stroke-width="1.5"/>
<line x1="522.70" y1="127.00" x2="522.70" y2="133.00" stroke="#0000ff" stroke-width="1.5"/>
<line x1="527.10" y1="127.00" x2="527.10" y2="132.30" stroke="#0000ff" stroke-width="1.5"/>
<line x1="531.60" y1="127.00" x2="531.60" y2="132.30" stroke="#0000ff" stroke-width="1.5"/>
<line x1="536.70" y1="127.00" x2="536.70" y2="133.00" stroke="#0000ff" stroke-width="1.5"/>
<line x1="541.20" y1="127.00" x2="541.20" y2="133.00" stroke="#0000ff" stroke-width="1.5"/>
<polyline points="552.50,127.50 555.70,129.03 556.30,125.80 559.70,129.03 560.00,129.03 560.60,125.80 564.10,129.03 564.40,129.03 565.00,125.80 568.80,129.03 569.10,129.03 569.70,125.80 573.10,129.03 573.40,129.03 574.00,125.80 577.10,129.03 577.40,129.03 578.00,125.80 581.50,129.03 581.80,129.03 582.40,125.80 586.00,129.03 586.30,129.03 586.90,125.80 590.40,129.03 590.70,129.03 591.30,125.80 594.90,129.03 593.50,127.50" fill="none" stroke="#ff00ff" stroke-width="1.15" stroke-linejoin="round"/>
<line x1="556.00" y1="127.50" x2="556.00" y2="72.00" stroke="#ff00ff" stroke-width="1.0"/>
<line x1="555.60" y1="127.50" x2="555.60" y2="194.70" stroke="#ff00ff" stroke-width="1.0"/>
<line x1="560.30" y1="127.50" x2="560.30" y2="70.50" stroke="#ff00ff" stroke-width="1.0"/>
<line x1="559.90" y1="127.50" x2="559.90" y2="198.20" stroke="#ff00ff" stroke-width="1.0"/>
<line x1="564.70" y1="127.50" x2="564.70" y2="81.00" stroke="#ff00ff" stroke-width="1.0"/>
<line x1="564.30" y1="127.50" x2="564.30" y2="196.10" stroke="#ff00ff" stroke-width="1.0"/>
<line x1="569.40" y1="127.50" x2="569.40" y2="70.50" stroke="#ff00ff" stroke-width="1.0"/>
<line x1="569.00" y1="127.50" x2="569.00" y2="197.60" stroke="#ff00ff" stroke-width="1.0"/>
<line x1="573.70" y1="127.50" x2="573.70" y2="71.40" stroke="#ff00ff" stroke-width="1.0"/>
<line x1="573.30" y1="127.50" x2="573.30" y2="193.30" stroke="#ff00ff" stroke-width="1.0"/>
<line x1="577.70" y1="127.50" x2="577.70" y2="70.50" stroke="#ff00ff" stroke-width="1.0"/>
<line x1="577.30" y1="127.50" x2="577.30" y2="194.70" stroke="#ff00ff" stroke-width="1.0"/>
<line x1="582.10" y1="127.50" x2="582.10" y2="69.80" stroke="#ff00ff" stroke-width="1.0"/>
<line x1="581.70" y1="127.50" x2="581.70" y2="174.00" stroke="#ff00ff" stroke-width="1.0"/>
<line x1="586.60" y1="127.50" x2="586.60" y2="71.40" stroke="#ff00ff" stroke-width="1.0"/>
<line x1="586.20" y1="127.50" x2="586.20" y2="195.30" stroke="#ff00ff" stroke-width="1.0"/>
<line x1="591.00" y1="127.50" x2="591.00" y2="81.60" stroke="#ff00ff" stroke-width="1.0"/>
<line x1="590.60" y1="127.50" x2="590.60" y2="199.00" stroke="#ff00ff" stroke-width="1.0"/>
<line x1="561.20" y1="127.50" x2="561.20" y2="97.70" stroke="#ff00ff" stroke-width="1.5"/>
<line x1="570.30" y1="127.50" x2="570.30" y2="98.80" stroke="#ff00ff" stroke-width="1.5"/>
<line x1="574.60" y1="127.50" x2="574.60" y2="110.00" stroke="#ff00ff" stroke-width="1.5"/>
<line x1="578.60" y1="127.50" x2="578.60" y2="116.70" stroke="#ff00ff" stroke-width="1.5"/>
<line x1="583.00" y1="127.50" x2="583.00" y2="112.00" stroke="#ff00ff" stroke-width="1.5"/>
<line x1="587.50" y1="127.50" x2="587.50" y2="101.00" stroke="#ff00ff" stroke-width="1.5"/>
<line x1="591.90" y1="127.50" x2="591.90" y2="88.80" stroke="#ff00ff" stroke-width="1.5"/>
<line x1="555.00" y1="127.50" x2="555.00" y2="133.00" stroke="#ff00ff" stroke-width="1.5"/>
<line x1="559.30" y1="127.50" x2="559.30" y2="131.50" stroke="#ff00ff" stroke-width="1.5"/>
<line x1="568.40" y1="127.50" x2="568.40" y2="134.40" stroke="#ff00ff" stroke-width="1.5"/>
<line x1="576.70" y1="127.50" x2="576.70" y2="145.20" stroke="#ff00ff" stroke-width="1.5"/>
<line x1="581.10" y1="127.50" x2="581.10" y2="137.30" stroke="#ff00ff" stroke-width="1.5"/>
<line x1="585.60" y1="127.50" x2="585.60" y2="135.90" stroke="#ff00ff" stroke-width="1.5"/>
<line x1="590.00" y1="127.50" x2="590.00" y2="133.00" stroke="#ff00ff" stroke-width="1.5"/>
<polyline points="602.00,127.20 605.20,128.73 605.80,125.50 609.70,128.73 610.00,128.73 610.60,125.50 614.40,128.73 614.70,128.73 615.30,125.50 618.40,128.73 618.70,128.73 619.30,125.50 623.10,128.73 623.40,128.73 624.00,125.50 628.10,128.73 628.40,128.73 629.00,125.50 632.80,128.73 633.10,128.73 633.70,125.50 637.30,128.73 637.60,128.73 638.20,125.50 642.10,128.73 642.40,128.73 643.00,125.50 646.60,128.73 645.20,127.20" fill="none" stroke="#0a900a" stroke-width="1.15" stroke-linejoin="round"/>
<line x1="605.50" y1="127.20" x2="605.50" y2="63.20" stroke="#0a900a" stroke-width="1.0"/>
<line x1="605.10" y1="127.20" x2="605.10" y2="203.00" stroke="#0a900a" stroke-width="1.0"/>
<line x1="610.30" y1="127.20" x2="610.30" y2="65.60" stroke="#0a900a" stroke-width="1.0"/>
<line x1="609.90" y1="127.20" x2="609.90" y2="205.00" stroke="#0a900a" stroke-width="1.0"/>
<line x1="615.00" y1="127.20" x2="615.00" y2="71.70" stroke="#0a900a" stroke-width="1.0"/>
<line x1="614.60" y1="127.20" x2="614.60" y2="201.00" stroke="#0a900a" stroke-width="1.0"/>
<line x1="619.00" y1="127.20" x2="619.00" y2="63.20" stroke="#0a900a" stroke-width="1.0"/>
<line x1="618.60" y1="127.20" x2="618.60" y2="202.00" stroke="#0a900a" stroke-width="1.0"/>
<line x1="623.70" y1="127.20" x2="623.70" y2="64.60" stroke="#0a900a" stroke-width="1.0"/>
<line x1="623.30" y1="127.20" x2="623.30" y2="204.00" stroke="#0a900a" stroke-width="1.0"/>
<line x1="628.70" y1="127.20" x2="628.70" y2="65.60" stroke="#0a900a" stroke-width="1.0"/>
<line x1="628.30" y1="127.20" x2="628.30" y2="206.00" stroke="#0a900a" stroke-width="1.0"/>
<line x1="633.40" y1="127.20" x2="633.40" y2="65.60" stroke="#0a900a" stroke-width="1.0"/>
<line x1="633.00" y1="127.20" x2="633.00" y2="203.00" stroke="#0a900a" stroke-width="1.0"/>
<line x1="637.90" y1="127.20" x2="637.90" y2="65.10" stroke="#0a900a" stroke-width="1.0"/>
<line x1="637.50" y1="127.20" x2="637.50" y2="205.00" stroke="#0a900a" stroke-width="1.0"/>
<line x1="642.70" y1="127.20" x2="642.70" y2="65.60" stroke="#0a900a" stroke-width="1.0"/>
<line x1="642.30" y1="127.20" x2="642.30" y2="203.00" stroke="#0a900a" stroke-width="1.0"/>
<line x1="606.40" y1="127.20" x2="606.40" y2="81.60" stroke="#0a900a" stroke-width="1.5"/>
<line x1="611.20" y1="127.20" x2="611.20" y2="114.70" stroke="#0a900a" stroke-width="1.5"/>
<line x1="615.90" y1="127.20" x2="615.90" y2="107.60" stroke="#0a900a" stroke-width="1.5"/>
<line x1="619.90" y1="127.20" x2="619.90" y2="82.80" stroke="#0a900a" stroke-width="1.5"/>
<line x1="624.60" y1="127.20" x2="624.60" y2="65.50" stroke="#0a900a" stroke-width="1.5"/>
<line x1="638.80" y1="127.20" x2="638.80" y2="121.40" stroke="#0a900a" stroke-width="1.5"/>
<line x1="643.60" y1="127.20" x2="643.60" y2="117.00" stroke="#0a900a" stroke-width="1.5"/>
<line x1="604.50" y1="127.20" x2="604.50" y2="133.00" stroke="#0a900a" stroke-width="1.5"/>
<line x1="609.30" y1="127.20" x2="609.30" y2="144.50" stroke="#0a900a" stroke-width="1.5"/>
<line x1="618.00" y1="127.20" x2="618.00" y2="134.00" stroke="#0a900a" stroke-width="1.5"/>
<line x1="627.70" y1="127.20" x2="627.70" y2="150.00" stroke="#0a900a" stroke-width="1.5"/>
<line x1="632.40" y1="127.20" x2="632.40" y2="140.00" stroke="#0a900a" stroke-width="1.5"/>
<line x1="636.90" y1="127.20" x2="636.90" y2="162.00" stroke="#0a900a" stroke-width="1.5"/>
<line x1="641.70" y1="127.20" x2="641.70" y2="144.00" stroke="#0a900a" stroke-width="1.5"/>
<polyline points="651.50,127.50 654.70,129.03 655.30,125.80 659.30,129.03 659.60,129.03 660.20,125.80 663.70,129.03 664.00,129.03 664.60,125.80 668.40,129.03 668.70,129.03 669.30,125.80 672.80,129.03 673.10,129.03 673.70,125.80 677.60,129.03 677.90,129.03 678.50,125.80 682.30,129.03 682.60,129.03 683.20,125.80 686.50,129.03 686.80,129.03 687.40,125.80 691.20,129.03 691.50,129.03 692.10,125.80 695.70,129.03 694.30,127.50" fill="none" stroke="#1c1c9c" stroke-width="1.15" stroke-linejoin="round"/>
<line x1="655.00" y1="127.50" x2="655.00" y2="69.20" stroke="#1c1c9c" stroke-width="1.0"/>
<line x1="654.60" y1="127.50" x2="654.60" y2="208.00" stroke="#1c1c9c" stroke-width="1.0"/>
<line x1="659.90" y1="127.50" x2="659.90" y2="71.40" stroke="#1c1c9c" stroke-width="1.0"/>
<line x1="659.50" y1="127.50" x2="659.50" y2="208.00" stroke="#1c1c9c" stroke-width="1.0"/>
<line x1="664.30" y1="127.50" x2="664.30" y2="69.20" stroke="#1c1c9c" stroke-width="1.0"/>
<line x1="663.90" y1="127.50" x2="663.90" y2="206.50" stroke="#1c1c9c" stroke-width="1.0"/>
<line x1="669.00" y1="127.50" x2="669.00" y2="69.20" stroke="#1c1c9c" stroke-width="1.0"/>
<line x1="668.60" y1="127.50" x2="668.60" y2="205.00" stroke="#1c1c9c" stroke-width="1.0"/>
<line x1="673.40" y1="127.50" x2="673.40" y2="72.00" stroke="#1c1c9c" stroke-width="1.0"/>
<line x1="673.00" y1="127.50" x2="673.00" y2="208.00" stroke="#1c1c9c" stroke-width="1.0"/>
<line x1="678.20" y1="127.50" x2="678.20" y2="69.80" stroke="#1c1c9c" stroke-width="1.0"/>
<line x1="677.80" y1="127.50" x2="677.80" y2="206.50" stroke="#1c1c9c" stroke-width="1.0"/>
<line x1="682.90" y1="127.50" x2="682.90" y2="69.20" stroke="#1c1c9c" stroke-width="1.0"/>
<line x1="682.50" y1="127.50" x2="682.50" y2="208.00" stroke="#1c1c9c" stroke-width="1.0"/>
<line x1="687.10" y1="127.50" x2="687.10" y2="69.20" stroke="#1c1c9c" stroke-width="1.0"/>
<line x1="686.70" y1="127.50" x2="686.70" y2="208.00" stroke="#1c1c9c" stroke-width="1.0"/>
<line x1="691.80" y1="127.50" x2="691.80" y2="69.20" stroke="#1c1c9c" stroke-width="1.0"/>
<line x1="691.40" y1="127.50" x2="691.40" y2="206.50" stroke="#1c1c9c" stroke-width="1.0"/>
<line x1="665.20" y1="127.50" x2="665.20" y2="121.00" stroke="#1c1c9c" stroke-width="1.5"/>
<line x1="669.90" y1="127.50" x2="669.90" y2="115.60" stroke="#1c1c9c" stroke-width="1.5"/>
<line x1="674.30" y1="127.50" x2="674.30" y2="102.00" stroke="#1c1c9c" stroke-width="1.5"/>
<line x1="679.10" y1="127.50" x2="679.10" y2="72.00" stroke="#1c1c9c" stroke-width="1.5"/>
<line x1="683.80" y1="127.50" x2="683.80" y2="113.00" stroke="#1c1c9c" stroke-width="1.5"/>
<line x1="688.00" y1="127.50" x2="688.00" y2="90.00" stroke="#1c1c9c" stroke-width="1.5"/>
<line x1="692.70" y1="127.50" x2="692.70" y2="71.00" stroke="#1c1c9c" stroke-width="1.5"/>
<line x1="654.00" y1="127.50" x2="654.00" y2="134.00" stroke="#1c1c9c" stroke-width="1.5"/>
<line x1="663.30" y1="127.50" x2="663.30" y2="172.00" stroke="#1c1c9c" stroke-width="1.5"/>
<line x1="668.00" y1="127.50" x2="668.00" y2="145.00" stroke="#1c1c9c" stroke-width="1.5"/>
<line x1="672.40" y1="127.50" x2="672.40" y2="135.00" stroke="#1c1c9c" stroke-width="1.5"/>
<line x1="686.10" y1="127.50" x2="686.10" y2="135.00" stroke="#1c1c9c" stroke-width="1.5"/>
<line x1="690.80" y1="127.50" x2="690.80" y2="133.00" stroke="#1c1c9c" stroke-width="1.5"/>
<rect x="53.40" y="14.20" width="276.80" height="223.10" fill="none" stroke="#383838" stroke-width="1.3"/>
<rect x="405.20" y="15.10" width="295.70" height="225.10" fill="none" stroke="#383838" stroke-width="1.3"/>
<line x1="49.80" y1="237.22" x2="53.40" y2="237.22" stroke="#383838" stroke-width="1.2"/>
<text x="46.60" y="240.52" font-size="12" fill="#1a1a1a" text-anchor="end" font-weight="bold" >-60</text>
<line x1="51.40" y1="220.05" x2="53.40" y2="220.05" stroke="#383838" stroke-width="1.2"/>
<line x1="49.80" y1="202.88" x2="53.40" y2="202.88" stroke="#383838" stroke-width="1.2"/>
<text x="46.60" y="206.18" font-size="12" fill="#1a1a1a" text-anchor="end" font-weight="bold" >-40</text>
<line x1="51.40" y1="185.71" x2="53.40" y2="185.71" stroke="#383838" stroke-width="1.2"/>
<line x1="49.80" y1="168.54" x2="53.40" y2="168.54" stroke="#383838" stroke-width="1.2"/>
<text x="46.60" y="171.84" font-size="12" fill="#1a1a1a" text-anchor="end" font-weight="bold" >-20</text>
<line x1="51.40" y1="151.37" x2="53.40" y2="151.37" stroke="#383838" stroke-width="1.2"/>
<line x1="49.80" y1="134.20" x2="53.40" y2="134.20" stroke="#383838" stroke-width="1.2"/>
<text x="46.60" y="137.50" font-size="12" fill="#1a1a1a" text-anchor="end" font-weight="bold" >0</text>
<line x1="51.40" y1="117.03" x2="53.40" y2="117.03" stroke="#383838" stroke-width="1.2"/>
<line x1="49.80" y1="99.86" x2="53.40" y2="99.86" stroke="#383838" stroke-width="1.2"/>
<text x="46.60" y="103.16" font-size="12" fill="#1a1a1a" text-anchor="end" font-weight="bold" >20</text>
<line x1="51.40" y1="82.69" x2="53.40" y2="82.69" stroke="#383838" stroke-width="1.2"/>
<line x1="49.80" y1="65.52" x2="53.40" y2="65.52" stroke="#383838" stroke-width="1.2"/>
<text x="46.60" y="68.82" font-size="12" fill="#1a1a1a" text-anchor="end" font-weight="bold" >40</text>
<line x1="51.40" y1="48.35" x2="53.40" y2="48.35" stroke="#383838" stroke-width="1.2"/>
<line x1="49.80" y1="31.18" x2="53.40" y2="31.18" stroke="#383838" stroke-width="1.2"/>
<text x="46.60" y="34.48" font-size="12" fill="#1a1a1a" text-anchor="end" font-weight="bold" >60</text>
<line x1="51.40" y1="14.01" x2="53.40" y2="14.01" stroke="#383838" stroke-width="1.2"/>
<line x1="53.40" y1="237.30" x2="53.40" y2="240.90" stroke="#383838" stroke-width="1.2"/>
<text x="53.40" y="254.00" font-size="12" fill="#1a1a1a" text-anchor="middle" font-weight="bold" >0</text>
<line x1="76.47" y1="237.30" x2="76.47" y2="239.30" stroke="#383838" stroke-width="1.2"/>
<line x1="99.53" y1="237.30" x2="99.53" y2="240.90" stroke="#383838" stroke-width="1.2"/>
<text x="99.53" y="254.00" font-size="12" fill="#1a1a1a" text-anchor="middle" font-weight="bold" >2</text>
<line x1="122.60" y1="237.30" x2="122.60" y2="239.30" stroke="#383838" stroke-width="1.2"/>
<line x1="145.67" y1="237.30" x2="145.67" y2="240.90" stroke="#383838" stroke-width="1.2"/>
<text x="145.67" y="254.00" font-size="12" fill="#1a1a1a" text-anchor="middle" font-weight="bold" >4</text>
<line x1="168.73" y1="237.30" x2="168.73" y2="239.30" stroke="#383838" stroke-width="1.2"/>
<line x1="191.80" y1="237.30" x2="191.80" y2="240.90" stroke="#383838" stroke-width="1.2"/>
<text x="191.80" y="254.00" font-size="12" fill="#1a1a1a" text-anchor="middle" font-weight="bold" >6</text>
<line x1="214.87" y1="237.30" x2="214.87" y2="239.30" stroke="#383838" stroke-width="1.2"/>
<line x1="237.93" y1="237.30" x2="237.93" y2="240.90" stroke="#383838" stroke-width="1.2"/>
<text x="237.93" y="254.00" font-size="12" fill="#1a1a1a" text-anchor="middle" font-weight="bold" >8</text>
<line x1="261.00" y1="237.30" x2="261.00" y2="239.30" stroke="#383838" stroke-width="1.2"/>
<line x1="284.07" y1="237.30" x2="284.07" y2="240.90" stroke="#383838" stroke-width="1.2"/>
<text x="284.07" y="254.00" font-size="12" fill="#1a1a1a" text-anchor="middle" font-weight="bold" >10</text>
<line x1="307.13" y1="237.30" x2="307.13" y2="239.30" stroke="#383838" stroke-width="1.2"/>
<line x1="330.20" y1="237.30" x2="330.20" y2="240.90" stroke="#383838" stroke-width="1.2"/>
<text x="330.20" y="254.00" font-size="12" fill="#1a1a1a" text-anchor="middle" font-weight="bold" >12</text>
<line x1="401.00" y1="240.16" x2="405.20" y2="240.16" stroke="#383838" stroke-width="1.2"/>
<text x="397.20" y="243.36" font-size="11.8" fill="#1a1a1a" text-anchor="end" font-weight="bold" >-6</text>
<line x1="403.20" y1="221.40" x2="405.20" y2="221.40" stroke="#383838" stroke-width="1.2"/>
<line x1="401.00" y1="202.64" x2="405.20" y2="202.64" stroke="#383838" stroke-width="1.2"/>
<text x="397.20" y="205.84" font-size="11.8" fill="#1a1a1a" text-anchor="end" font-weight="bold" >-4</text>
<line x1="403.20" y1="183.88" x2="405.20" y2="183.88" stroke="#383838" stroke-width="1.2"/>
<line x1="401.00" y1="165.12" x2="405.20" y2="165.12" stroke="#383838" stroke-width="1.2"/>
<text x="397.20" y="168.32" font-size="11.8" fill="#1a1a1a" text-anchor="end" font-weight="bold" >-2</text>
<line x1="403.20" y1="146.36" x2="405.20" y2="146.36" stroke="#383838" stroke-width="1.2"/>
<line x1="401.00" y1="127.60" x2="405.20" y2="127.60" stroke="#383838" stroke-width="1.2"/>
<text x="397.20" y="130.80" font-size="11.8" fill="#1a1a1a" text-anchor="end" font-weight="bold" >0</text>
<line x1="403.20" y1="108.84" x2="405.20" y2="108.84" stroke="#383838" stroke-width="1.2"/>
<line x1="401.00" y1="90.08" x2="405.20" y2="90.08" stroke="#383838" stroke-width="1.2"/>
<text x="397.20" y="93.28" font-size="11.8" fill="#1a1a1a" text-anchor="end" font-weight="bold" >2</text>
<line x1="403.20" y1="71.32" x2="405.20" y2="71.32" stroke="#383838" stroke-width="1.2"/>
<line x1="401.00" y1="52.56" x2="405.20" y2="52.56" stroke="#383838" stroke-width="1.2"/>
<text x="397.20" y="55.76" font-size="11.8" fill="#1a1a1a" text-anchor="end" font-weight="bold" >4</text>
<line x1="403.20" y1="33.80" x2="405.20" y2="33.80" stroke="#383838" stroke-width="1.2"/>
<line x1="401.00" y1="15.04" x2="405.20" y2="15.04" stroke="#383838" stroke-width="1.2"/>
<text x="397.20" y="18.24" font-size="11.8" fill="#1a1a1a" text-anchor="end" font-weight="bold" >6</text>
<line x1="405.20" y1="240.20" x2="405.20" y2="244.40" stroke="#383838" stroke-width="1.2"/>
<text x="405.20" y="256.60" font-size="11.8" fill="#1a1a1a" text-anchor="middle" font-weight="bold" >0</text>
<line x1="429.84" y1="240.20" x2="429.84" y2="242.20" stroke="#383838" stroke-width="1.2"/>
<line x1="454.48" y1="240.20" x2="454.48" y2="244.40" stroke="#383838" stroke-width="1.2"/>
<text x="454.48" y="256.60" font-size="11.8" fill="#1a1a1a" text-anchor="middle" font-weight="bold" >2</text>
<line x1="479.12" y1="240.20" x2="479.12" y2="242.20" stroke="#383838" stroke-width="1.2"/>
<line x1="503.77" y1="240.20" x2="503.77" y2="244.40" stroke="#383838" stroke-width="1.2"/>
<text x="503.77" y="256.60" font-size="11.8" fill="#1a1a1a" text-anchor="middle" font-weight="bold" >4</text>
<line x1="528.41" y1="240.20" x2="528.41" y2="242.20" stroke="#383838" stroke-width="1.2"/>
<line x1="553.05" y1="240.20" x2="553.05" y2="244.40" stroke="#383838" stroke-width="1.2"/>
<text x="553.05" y="256.60" font-size="11.8" fill="#1a1a1a" text-anchor="middle" font-weight="bold" >6</text>
<line x1="577.69" y1="240.20" x2="577.69" y2="242.20" stroke="#383838" stroke-width="1.2"/>
<line x1="602.33" y1="240.20" x2="602.33" y2="244.40" stroke="#383838" stroke-width="1.2"/>
<text x="602.33" y="256.60" font-size="11.8" fill="#1a1a1a" text-anchor="middle" font-weight="bold" >8</text>
<line x1="626.97" y1="240.20" x2="626.97" y2="242.20" stroke="#383838" stroke-width="1.2"/>
<line x1="651.62" y1="240.20" x2="651.62" y2="244.40" stroke="#383838" stroke-width="1.2"/>
<text x="651.62" y="256.60" font-size="11.8" fill="#1a1a1a" text-anchor="middle" font-weight="bold" >10</text>
<line x1="676.26" y1="240.20" x2="676.26" y2="242.20" stroke="#383838" stroke-width="1.2"/>
<line x1="700.90" y1="240.20" x2="700.90" y2="244.40" stroke="#383838" stroke-width="1.2"/>
<text x="700.90" y="256.60" font-size="11.8" fill="#1a1a1a" text-anchor="middle" font-weight="bold" >12</text>
<text x="0.00" y="0.00" font-size="12" fill="#1a1a1a" text-anchor="middle" font-weight="bold" transform="translate(16.8,118.6) rotate(-90)" letter-spacing="0.5">Voltage(V)</text>
<text x="192.20" y="274.50" font-size="12" fill="#1a1a1a" text-anchor="middle" font-weight="bold" letter-spacing="0.4">Time(s)</text>
<text x="0.00" y="0.00" font-size="12" fill="#1a1a1a" text-anchor="middle" font-weight="bold" transform="translate(372.3,121.1) rotate(-90)" letter-spacing="-0.12">Current (μA)</text>
<text x="553.00" y="277.00" font-size="12" fill="#1a1a1a" text-anchor="middle" font-weight="bold" letter-spacing="0.1">Time(s)</text>
<text x="79.00" y="27.90" font-size="11.5" fill="#111" text-anchor="middle" font-weight="bold" >NR</text>
<text x="109.00" y="27.3" font-size="11.5" fill="#ff0000" font-weight="bold">TiO<tspan font-size="12" dy="4.6">2</tspan></text>
<text x="121.00" y="46.40" font-size="10.8" fill="#ff0000" text-anchor="middle" font-weight="bold" >0.1%</text>
<text x="157.00" y="27.3" font-size="11.5" fill="#0000ff" font-weight="bold">TiO<tspan font-size="12" dy="4.6">2</tspan></text>
<text x="169.00" y="46.40" font-size="10.8" fill="#0000ff" text-anchor="middle" font-weight="bold" >0.2%</text>
<text x="205.00" y="27.3" font-size="11.5" fill="#ff00ff" font-weight="bold">TiO<tspan font-size="12" dy="4.6">2</tspan></text>
<text x="217.00" y="46.40" font-size="10.8" fill="#ff00ff" text-anchor="middle" font-weight="bold" >0.3%</text>
<text x="250.00" y="27.3" font-size="11.5" fill="#0a900a" font-weight="bold">TiO<tspan font-size="12" dy="4.6">2</tspan></text>
<text x="262.00" y="46.40" font-size="10.8" fill="#0a900a" text-anchor="middle" font-weight="bold" >0.4%</text>
<text x="295.50" y="27.3" font-size="11.5" fill="#2626a8" font-weight="bold">TiO<tspan font-size="12" dy="4.6">2</tspan></text>
<text x="307.50" y="46.40" font-size="10.8" fill="#2626a8" text-anchor="middle" font-weight="bold" >0.5%</text>
<text x="430.9" y="26.9" font-size="8.8" fill="#111" font-weight="bold" text-anchor="middle" letter-spacing="1.2">NR</text>
<text transform="translate(471.10,26.9) scale(1,1.12)" x="0" y="0" font-size="9.6" fill="#ff0000" font-weight="bold">TiO<tspan font-size="10.0" dx="0.8" dy="3.3">2</tspan></text>
<text transform="translate(481.30,42.9) scale(1,1.12)" x="0" y="0" font-size="9" fill="#ff0000" font-weight="bold" text-anchor="middle" letter-spacing="0.6">0.1%</text>
<text transform="translate(519.00,26.9) scale(1,1.12)" x="0" y="0" font-size="9.6" fill="#0000ff" font-weight="bold">TiO<tspan font-size="10.0" dx="0.8" dy="3.3">2</tspan></text>
<text transform="translate(529.30,42.9) scale(1,1.12)" x="0" y="0" font-size="9" fill="#0000ff" font-weight="bold" text-anchor="middle" letter-spacing="0.6">0.2%</text>
<text transform="translate(568.80,26.9) scale(1,1.12)" x="0" y="0" font-size="9.6" fill="#ff00ff" font-weight="bold">TiO<tspan font-size="10.0" dx="0.8" dy="3.3">2</tspan></text>
<text transform="translate(579.30,42.9) scale(1,1.12)" x="0" y="0" font-size="9" fill="#ff00ff" font-weight="bold" text-anchor="middle" letter-spacing="0.6">0.3%</text>
<text transform="translate(616.30,26.9) scale(1,1.12)" x="0" y="0" font-size="9.6" fill="#0a900a" font-weight="bold">TiO<tspan font-size="10.0" dx="0.8" dy="3.3">2</tspan></text>
<text transform="translate(626.80,42.9) scale(1,1.12)" x="0" y="0" font-size="9" fill="#0a900a" font-weight="bold" text-anchor="middle" letter-spacing="0.6">0.4%</text>
<text transform="translate(665.20,26.9) scale(1,1.12)" x="0" y="0" font-size="9.6" fill="#2626a8" font-weight="bold">TiO<tspan font-size="10.0" dx="0.8" dy="3.3">2</tspan></text>
<text transform="translate(676.00,42.9) scale(1,1.12)" x="0" y="0" font-size="9" fill="#2626a8" font-weight="bold" text-anchor="middle" letter-spacing="0.6">0.5%</text>
<text x="169.0" y="302.6" font-size="19.5" fill="#111" text-anchor="middle" letter-spacing="-1.1" font-family="Liberation Serif, serif">(<tspan font-weight="bold">a</tspan>)</text>
<text x="534.7" y="302.6" font-size="19.5" fill="#111" text-anchor="middle" letter-spacing="-0.2" font-family="Liberation Serif, serif">(<tspan font-weight="bold">b</tspan>)</text>
</svg>
</body></html>
